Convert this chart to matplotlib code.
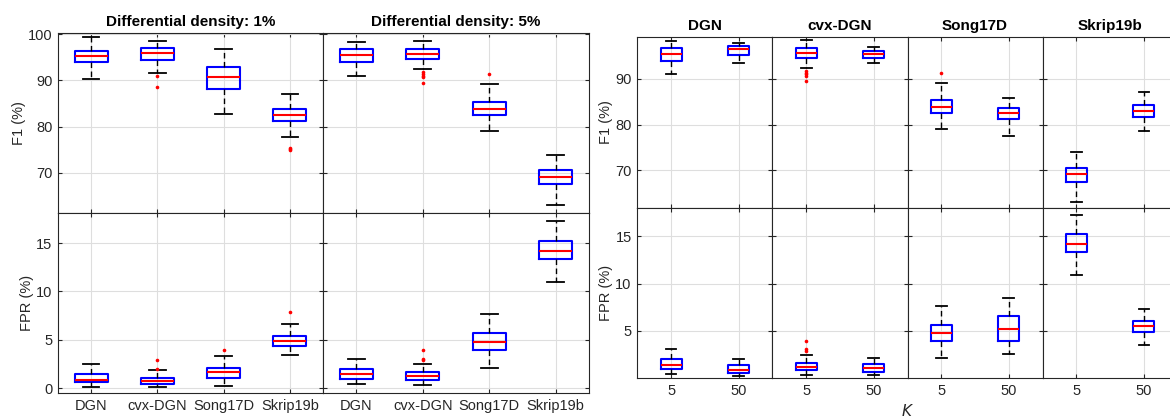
import matplotlib
matplotlib.use("Agg")
import matplotlib.pyplot as plt

plt.rcParams["font.family"] = ["Liberation Sans", "DejaVu Sans"]

METHODS = ["DGN", "cvx-DGN", "Song17D", "Skrip19b"]
K_LABELS = ["5", "50"]

# five-number summaries per method: [whislo, q1, med, q3, whishi]
f1_d1 = [[90.2, 93.9, 95.2, 96.4, 99.3],
         [91.5, 94.5, 96.0, 96.9, 98.5],
         [82.8, 88.2, 90.7, 92.8, 96.7],
         [77.7, 81.2, 82.6, 83.9, 87.0]]
f1_d1_out = [[], [91.0, 88.6], [], [75.4, 75.1, 74.9]]

f1_d5 = [[91.0, 93.9, 95.4, 96.7, 98.3],
         [92.5, 94.7, 95.8, 96.7, 98.6],
         [79.0, 82.6, 83.9, 85.4, 89.2],
         [63.1, 67.5, 69.1, 70.5, 73.9]]
f1_d5_out = [[], [91.8, 91.4, 91.0, 90.7, 89.5], [91.4], []]

fpr_d1 = [[0.14, 0.62, 0.89, 1.44, 2.50],
          [0.14, 0.48, 0.72, 1.03, 1.89],
          [0.27, 1.10, 1.62, 2.06, 3.33],
          [3.40, 4.40, 4.91, 5.36, 6.67]]
fpr_d1_out = [[], [2.92, 1.99], [3.95], [7.90]]

fpr_d5 = [[0.48, 0.96, 1.44, 1.99, 3.06],
          [0.31, 0.86, 1.24, 1.65, 2.51],
          [2.10, 3.99, 4.74, 5.67, 7.66],
          [10.93, 13.37, 14.19, 15.22, 17.25]]
fpr_d5_out = [[], [3.95, 3.06, 2.92], [], []]

# K = 5 runs are the 5% density runs; K = 50 read separately
f1_k50 = [[93.4, 95.3, 96.6, 97.2, 97.9],
          [93.4, 94.7, 95.5, 96.1, 97.0],
          [77.5, 81.2, 82.5, 83.7, 85.8],
          [78.6, 81.7, 82.9, 84.2, 87.2]]
fpr_k50 = [[0.21, 0.60, 0.85, 1.41, 2.08],
           [0.35, 0.70, 1.13, 1.55, 2.18],
           [2.61, 3.91, 5.18, 6.55, 8.52],
           [3.56, 4.86, 5.49, 6.06, 7.32]]

W, H = 1170, 417
DARK = "#262626"


def stats(rows, outs, labels):
    res = []
    for (lo, q1, med, q3, hi), fl, lab in zip(rows, outs, labels):
        res.append(dict(whislo=lo, q1=q1, med=med, q3=q3, whishi=hi,
                        fliers=fl, label=lab))
    return res


def axes_px(x0, y0, x1, y1):
    return fig.add_axes([x0 / W, 1 - y1 / H, (x1 - x0) / W, (y1 - y0) / H])


def draw(ax, st, width, cap):
    n = len(st)
    ax.bxp(st, positions=range(1, n + 1), widths=width,
           capwidths=[cap] * n, patch_artist=False,
           boxprops=dict(color="#0000ff", lw=1.5),
           medianprops=dict(color="#ff0000", lw=1.5),
           whiskerprops=dict(color="black", lw=1.0, ls=(0, (4, 2.5))),
           capprops=dict(color="black", lw=1.3),
           flierprops=dict(marker="o", markersize=2.6, markerfacecolor="#ff0000",
                           markeredgecolor="none", ls="none"))
    ax.set_xlim(0.5, n + 0.5)
    ax.grid(True, color="#dedede", lw=0.8)
    ax.set_axisbelow(True)
    ax.tick_params(direction="in", top=True, right=True, length=3,
                   labelsize=10.5, colors=DARK, labelcolor=DARK, pad=4)
    for s in ax.spines.values():
        s.set_color(DARK)
        s.set_linewidth(0.8)


fig = plt.figure(figsize=(W / 100, H / 100), dpi=100)

# left block: methods side by side for two densities
lx = [58, 323, 589]
ly = [33, 213, 393]
left = [
    (f1_d1, f1_d1_out, fpr_d1, fpr_d1_out, "Differential density: 1%"),
    (f1_d5, f1_d5_out, fpr_d5, fpr_d5_out, "Differential density: 5%"),
]
for c, (f1, f1o, fpr, fpro, title) in enumerate(left):
    at = axes_px(lx[c], ly[0], lx[c + 1], ly[1])
    ab = axes_px(lx[c], ly[1], lx[c + 1], ly[2])
    draw(at, stats(f1, f1o, METHODS), 0.5, 0.25)
    draw(ab, stats(fpr, fpro, METHODS), 0.5, 0.25)
    at.set_ylim(61.3, 100.25)
    at.set_yticks([70, 80, 90, 100])
    ab.set_ylim(-0.5, 18.1)
    ab.set_yticks([0, 5, 10, 15])
    at.set_xticklabels([])
    at.set_title(title, fontsize=11, fontweight="bold", pad=5)
    if c == 0:
        at.set_ylabel("F1 (%)", fontsize=10.5, color=DARK, labelpad=1.5)
        ab.set_ylabel("FPR (%)", fontsize=10.5, color=DARK, labelpad=1.5)
    else:
        at.set_yticklabels([])
        ab.set_yticklabels([])

# right block: one column per method, K = 5 vs K = 50
rx0, rw = 637.3, 135.1
ry = [37, 208, 378.3]
for c, m in enumerate(METHODS):
    x0 = rx0 + c * rw
    at = axes_px(x0, ry[0], x0 + rw, ry[1])
    ab = axes_px(x0, ry[1], x0 + rw, ry[2])
    draw(at, stats([f1_d5[c], f1_k50[c]], [f1_d5_out[c], []], K_LABELS), 0.31, 0.16)
    draw(ab, stats([fpr_d5[c], fpr_k50[c]], [fpr_d5_out[c], []], K_LABELS), 0.31, 0.16)
    at.set_ylim(61.7, 99.2)
    at.set_yticks([70, 80, 90])
    ab.set_ylim(0, 18)
    ab.set_yticks([5, 10, 15])
    at.set_xticklabels([])
    at.set_title(m, fontsize=11, fontweight="bold", pad=5)
    if c == 0:
        at.set_ylabel("F1 (%)", fontsize=10.5, color=DARK, labelpad=1.5)
        ab.set_ylabel("FPR (%)", fontsize=10.5, color=DARK, labelpad=1.5)
    else:
        at.set_yticklabels([])
        ab.set_yticklabels([])

fig.text(907.5 / W, 1 - 411 / H, "$K$", ha="center", va="center",
         fontsize=11, color=DARK)

fig.savefig("out.png", dpi=100)
